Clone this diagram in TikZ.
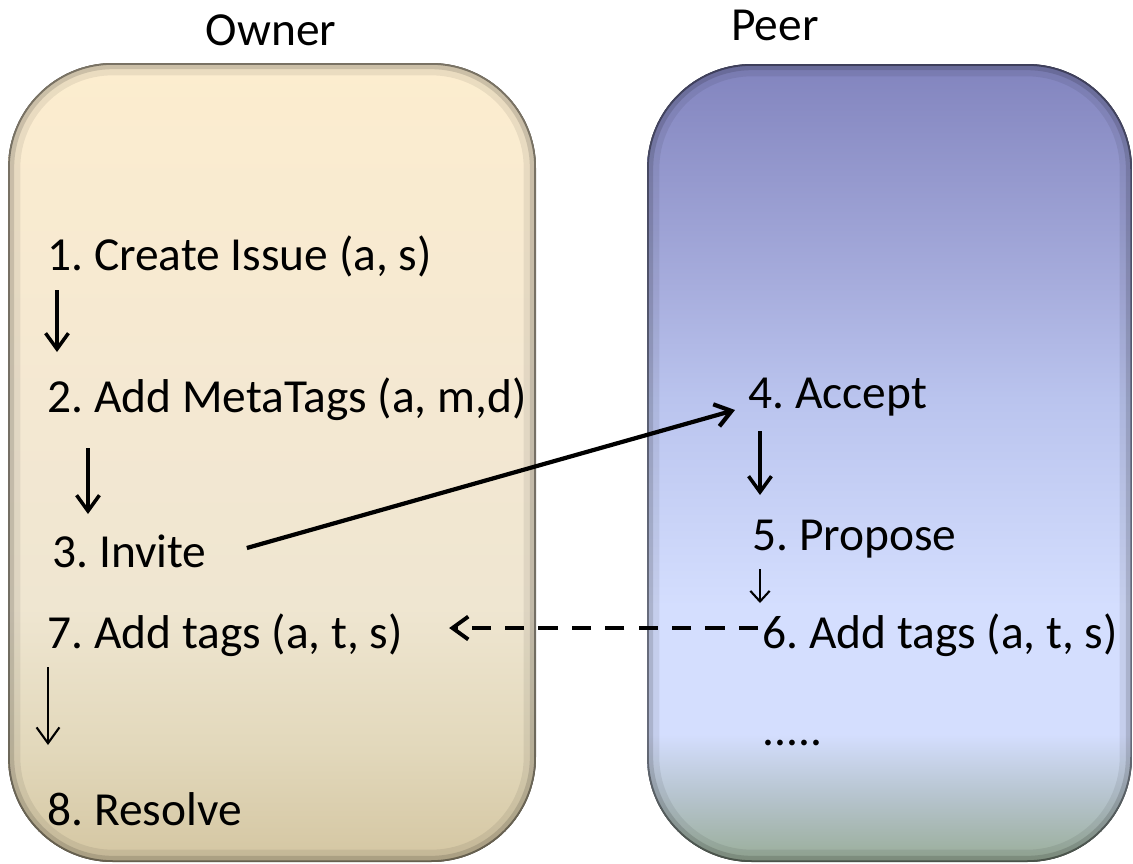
\documentclass[tikz,border=0pt]{standalone}
\usepackage{fontspec}
\setmainfont{Carlito}
\frenchspacing
\usetikzlibrary{calc,arrows.meta}
\definecolor{ownertop}{HTML}{FCEDCF}
\definecolor{ownermid}{HTML}{F4E8D2}
\definecolor{ownerlow}{HTML}{EFE6D1}
\definecolor{ownerdim}{HTML}{E2D8BB}
\definecolor{ownerbot}{HTML}{D4C6A2}
\definecolor{peertop}{HTML}{8284BE}
\definecolor{peerup}{HTML}{A7ADDD}
\definecolor{peermid}{HTML}{BAC4EE}
\definecolor{peerlight}{HTML}{D4DEFE}
\definecolor{peerdim}{HTML}{B5C3CC}
\definecolor{peerbot}{HTML}{99AD98}
\pgfdeclareverticalshading{ownershade}{100bp}{color(0bp)=(ownerbot); color(25bp)=(ownerbot); color(32bp)=(ownerdim); color(41bp)=(ownerlow); color(54bp)=(ownermid); color(75bp)=(ownertop); color(100bp)=(ownertop)}
\pgfdeclareverticalshading{peershade}{100bp}{color(0bp)=(peerbot); color(25bp)=(peerbot); color(29bp)=(peerdim); color(33bp)=(peerlight); color(41bp)=(peerlight); color(54bp)=(peermid); color(61bp)=(peerup); color(75bp)=(peertop); color(100bp)=(peertop)}
\tikzset{
    lane/.style = {rounded corners=2.1cm},
    action/.style = {inner sep=0pt, anchor=base west,
        font=\fontsize{27}{32}\selectfont},
    heading/.style = {inner sep=0pt, anchor=base,
        font=\fontsize{27}{32}\selectfont},
    flow/.style = {-{Straight Barb[length=9pt,width=13pt]}, line width=2pt},
    thinflow/.style = {flow, line width=1.2pt},
    reply/.style = {flow, line width=2.2pt, dash pattern=on 11pt off 8pt}
}
\begin{document}
\begin{tikzpicture}[x=0.02cm, y=-0.02cm]
        \useasboundingbox[fill=white] (0,0) rectangle (1133,863);
        % owner lane
        \begin{scope}
        \clip[lane] (8,63) rectangle (536,862);
        \fill[shading=ownershade] (8,63) rectangle (536,862);
        \draw[lane, line width=14pt, draw=black, opacity=0.07] (8,63) rectangle (536,862);
        \draw[lane, line width=7pt, draw=black, opacity=0.13] (8,63) rectangle (536,862);
        \draw[lane, line width=2pt, draw=black, opacity=0.4] (8,63) rectangle (536,862);
        \end{scope}
        % peer lane
        \begin{scope}
        \clip[lane] (647,64) rectangle (1132,862);
        \fill[shading=peershade] (647,64) rectangle (1132,862);
        \draw[lane, line width=14pt, draw=black, opacity=0.07] (647,64) rectangle (1132,862);
        \draw[lane, line width=7pt, draw=black, opacity=0.13] (647,64) rectangle (1132,862);
        \draw[lane, line width=2pt, draw=black, opacity=0.4] (647,64) rectangle (1132,862);
        \end{scope}
        \node[heading] (owner) at (271,45) {Owner};
        \node[heading] (peer) at (775,40) {Peer};
        % owner steps
        \node[action] (create) at (47,270) {1. Create Issue (a, s)};
        \node[action] (metatags) at (47,412) {2. Add MetaTags (a, m,d)};
        \node[action] (invite) at (52,567) {3. Invite};
        \node[action] (tags7) at (47,648) {7. Add tags (a, t, s)};
        \node[action] (resolve) at (47,825) {8. Resolve};
        % peer steps
        \node[action] (accept) at (748,408) {4. Accept};
        \node[action] (propose) at (752,550) {5. Propose};
        \node[action] (tags6) at (762,648) {6. Add tags (a, t, s)};
        \node[action] (more) at (762,745) {.....};
        \draw[flow] ($(create.base west)+(10,20)$) -- ($(metatags.base west)+(10,-60)$);
        \draw[flow] ($(metatags.base west)+(41,36)$) -- ($(invite.base west)+(36,-53)$);
        \draw[flow, line width=2.4pt] ($(invite.base east)+(40,-19)$) -- ($(accept.base west)+(-13,2)$);
        \draw[flow] ($(accept.base west)+(12,23)$) -- ($(propose.base west)+(8,-55)$);
        \draw[thinflow, -{Straight Barb[length=6pt,width=11pt]}] ($(propose.base west)+(8,19)$) -- ($(tags6.base west)+(-2,-45)$);
        \draw[reply] ($(tags6.base west)+(-4,-20)$) -- ($(tags7.base east)+(46,-20)$);
        \draw[thinflow] ($(tags7.base west)+(1,19)$) -- ($(resolve.base west)+(1,-80)$);
\end{tikzpicture}
\end{document}
